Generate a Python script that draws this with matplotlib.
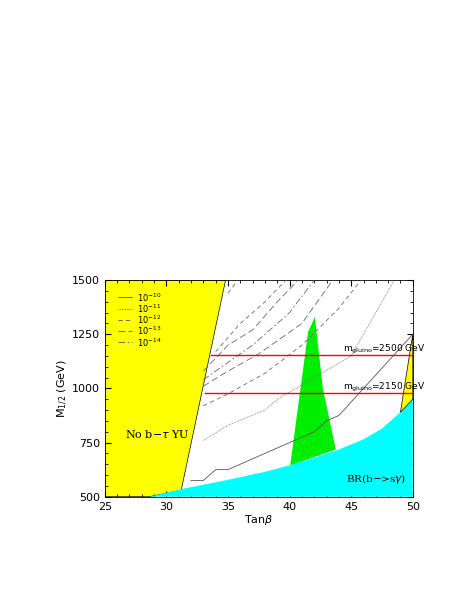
import matplotlib
matplotlib.use("Agg")
import matplotlib.pyplot as plt
from matplotlib.ticker import MultipleLocator

yl_x = [25, 25, 34.8, 31.2, 28.6]
yl_y = [500, 1500, 1500, 530, 500]
cy_x = [28.6, 31.2, 35, 38, 40, 42, 44, 46, 47.5, 49, 50, 50]
cy_y = [500, 535, 578, 615, 645, 680, 718, 765, 815, 890, 950, 500]
gr_x = [40.05, 41.5, 42.05, 42.7, 43.75]
gr_y = [645, 1260, 1330, 1000, 718]
yr_x = [49, 50, 50]
yr_y = [890, 1250, 950]
l10_x = [32, 33, 34, 35, 40, 42, 43, 44, 50]
l10_y = [575, 575, 625, 625, 750, 800, 850, 875, 1250]
l11_x = [33, 35, 38, 39, 42, 45, 48.5]
l11_y = [760, 830, 900, 950, 1050, 1150, 1500]
dash_lines = [
    ([33, 35, 38, 41, 44, 45.8], [920, 975, 1070, 1200, 1370, 1500], (0, (5, 4))),
    ([33, 35, 37.5, 41, 43.5], [1010, 1080, 1160, 1300, 1500], (0, (8, 4))),
    ([33, 35, 37, 40, 42], [1040, 1120, 1200, 1350, 1500], (0, (8, 3, 2, 3))),
    ([33, 35, 37, 39, 40.7], [1080, 1200, 1270, 1400, 1500], (0, (8, 4))),
    ([34, 36, 38, 39.7], [1170, 1300, 1400, 1500], (0, (5, 4))),
    ([35, 35.8], [1440, 1500], (0, (5, 4))),
]
red_y = [1155, 980]
red_x0 = [33.6, 33.1]
red_lab = ["$\\mathregular{m_{gluino}}$=2500 GeV", "$\\mathregular{m_{gluino}}$=2150 GeV"]

fig = plt.figure(figsize=(4.68, 6.05), dpi=100)
ax = fig.add_axes([0.224, 0.179, 0.658, 0.358])
ax.fill(yl_x, yl_y, color="#ffff00", ec="black", lw=0.5, zorder=1)
ax.fill(cy_x, cy_y, color="#00ffff", lw=0, zorder=2)
ax.fill(gr_x, gr_y, color="#00ee00", lw=0, zorder=3)
ax.fill(yr_x, yr_y, color="#ffff00", ec="black", lw=0.5, zorder=3)
ax.plot(l10_x, l10_y, color="#555555", lw=0.6, zorder=4)
ax.plot(l11_x, l11_y, color="#777777", lw=0.6, ls=(0, (1, 1)), zorder=4)
for xs, ys, ls in dash_lines:
    ax.plot(xs, ys, color="#666666", lw=0.6, ls=ls, zorder=4)
for y, x0, lab in zip(red_y, red_x0, red_lab):
    ax.plot([x0, 50], [y, y], color="#ff0000", lw=1.0, zorder=5)
    ax.text(44.3, y + 15, lab, fontsize=6.5, zorder=6)

leg_ls = ["-", (0, (1, 1)), (0, (5, 4)), (0, (8, 4)), (0, (8, 3, 2, 3))]
leg_lab = ["$10^{-10}$", "$10^{-11}$", "$10^{-12}$", "$10^{-13}$", "$10^{-14}$"]
for i, (ls, lab) in enumerate(zip(leg_ls, leg_lab)):
    y = 1420 - i * 52
    ax.plot([26.1, 27.2], [y, y], color="#555555", lw=0.6, ls=ls, zorder=6)
    ax.text(27.6, y, lab, fontsize=6, va="center", zorder=6)

ax.text(26.6, 770, "No b$-\\tau$ YU", fontsize=8, family="DejaVu Serif")
ax.text(44.6, 570, "BR(b$-$>s$\\gamma$)", fontsize=7.5, family="DejaVu Serif")

ax.set_xlim(25, 50)
ax.set_ylim(500, 1500)
ax.set_xticks([25, 30, 35, 40, 45, 50])
ax.set_yticks([500, 750, 1000, 1250, 1500])
ax.xaxis.set_minor_locator(MultipleLocator(1))
ax.yaxis.set_minor_locator(MultipleLocator(50))
ax.tick_params(which="both", direction="in", top=True, right=True, labelsize=8)
ax.tick_params(which="major", length=4)
ax.tick_params(which="minor", length=2)
ax.set_xlabel("Tan$\\beta$", fontsize=8, labelpad=1)
ax.set_ylabel("$\\mathregular{M_{1/2}}$ (GeV)", fontsize=8, labelpad=1)
for s in ax.spines.values():
    s.set_linewidth(0.6)
fig.savefig("out.png", dpi=100)
